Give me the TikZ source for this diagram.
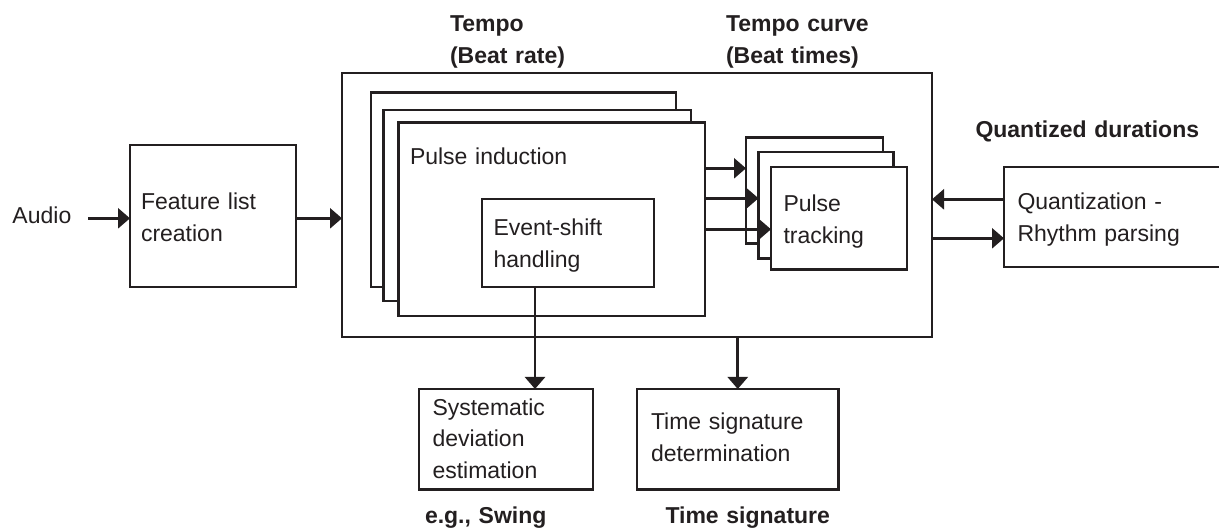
\documentclass[tikz,border=0pt]{standalone}
\usepackage{fontspec}
\setmainfont{Liberation Sans}
\usetikzlibrary{arrows.meta}
\definecolor{ink}{RGB}{35,31,32}
\newcommand{\bodyfont}{\fontsize{23}{31.7}\selectfont}
\tikzset{
  box/.style={rectangle, draw=ink, fill=white, line width=2.6pt, inner sep=0pt, outer sep=0pt, anchor=north west},
  txt/.style={anchor=base west, inner sep=0pt, outer sep=0pt, text=ink, align=left, text width=8cm, font=\bodyfont},
  lbl/.style={txt, font=\bodyfont\bfseries},
  arr/.style={draw=ink, line width=2.6pt, -{Triangle[length=12pt,width=20pt]}},
}
\begin{document}
\begin{tikzpicture}[x=1pt, y=-1pt]
\useasboundingbox (0,0) rectangle (1219,529);
\clip (0,0) rectangle (1219,529);

% main processing block
\node[box, minimum width=590pt, minimum height=264pt] (outer) at (342,73) {};

% stacked pulse induction units
\node[box, minimum width=305pt, minimum height=194.5pt] (pib1) at (371,92.5) {};
\node[box, minimum width=307.5pt, minimum height=191pt] (pib2) at (383.5,110) {};
\node[box, minimum width=306.5pt, minimum height=193.5pt] (pif) at (398.5,122.5) {};
\node[txt] (pitext) at (410,165) {Pulse induction};
\node[box, minimum width=172pt, minimum height=88pt] (esh) at (482,199) {};
\node[txt] (eshtext) at (493.5,235.7) {Event-shift\\handling};

% stacked pulse tracking units
\node[box, minimum width=137pt, minimum height=106pt] (ptb1) at (746,137.5) {};
\node[box, minimum width=135pt, minimum height=106.5pt] (ptb2) at (758.5,152) {};
\node[box, minimum width=136pt, minimum height=102.5pt] (ptf) at (771,167) {};
\node[txt] (pttext) at (783.5,211.7) {Pulse\\tracking};

% feature extraction
\node[txt] (audio) at (12.5,224) {Audio};
\node[box, minimum width=166pt, minimum height=142pt] (feat) at (130,145) {};
\node[txt] (feattext) at (141,210) {Feature list\\creation};

% quantization
\node[box, minimum width=236pt, minimum height=100pt] (quant) at (1004,167) {};
\node[txt] (quanttext) at (1017.5,210) {Quantization -\\Rhythm parsing};

% lower blocks
\node[box, minimum width=174pt, minimum height=100.5pt] (sys) at (419,389) {};
\node[txt] (systext) at (432.5,415) {Systematic\\deviation\\estimation};
\node[box, minimum width=201.5pt, minimum height=100.5pt] (tsd) at (637,389) {};
\node[txt] (tsdtext) at (651,429.5) {Time signature\\determination};

% output labels
\node[lbl] (tempo) at (450,31.7) {Tempo\\(Beat rate)};
\node[lbl] (curve) at (726,31.7) {Tempo curve\\(Beat times)};
\node[lbl] (qdur) at (975.5,137.7) {Quantized durations};
\node[lbl] (swing) at (425,523.5) {e.g., Swing};
\node[lbl] (tsig) at (665.5,523.5) {Time signature};

% connectors
\coordinate (ain) at (88,218.3);
\draw[arr] (ain) -- (ain -| feat.west);
\coordinate (fo) at (0,218.3);
\draw[arr] (fo -| feat.east) -- (fo -| outer.west);

\coordinate (p1) at (0,168.3);
\coordinate (p2) at (0,198.3);
\coordinate (p3) at (0,229.3);
\draw[arr] (p1 -| pif.east) -- (p1 -| ptb1.west);
\draw[arr] (p2 -| pif.east) -- (p2 -| ptb2.west);
\draw[arr] (p3 -| pif.east) -- (p3 -| ptf.west);

\coordinate (q1) at (0,199.3);
\coordinate (q2) at (0,238.3);
\draw[arr] (q1 -| quant.west) -- (q1 -| outer.east);
\draw[arr] (q2 -| outer.east) -- (q2 -| quant.west);

\coordinate (xs) at (535,0);
\draw[arr] (xs |- esh.south) -- (xs |- sys.north);
\draw[arr] (outer.south -| tsd.north) -- (tsd.north);
\end{tikzpicture}
\end{document}
